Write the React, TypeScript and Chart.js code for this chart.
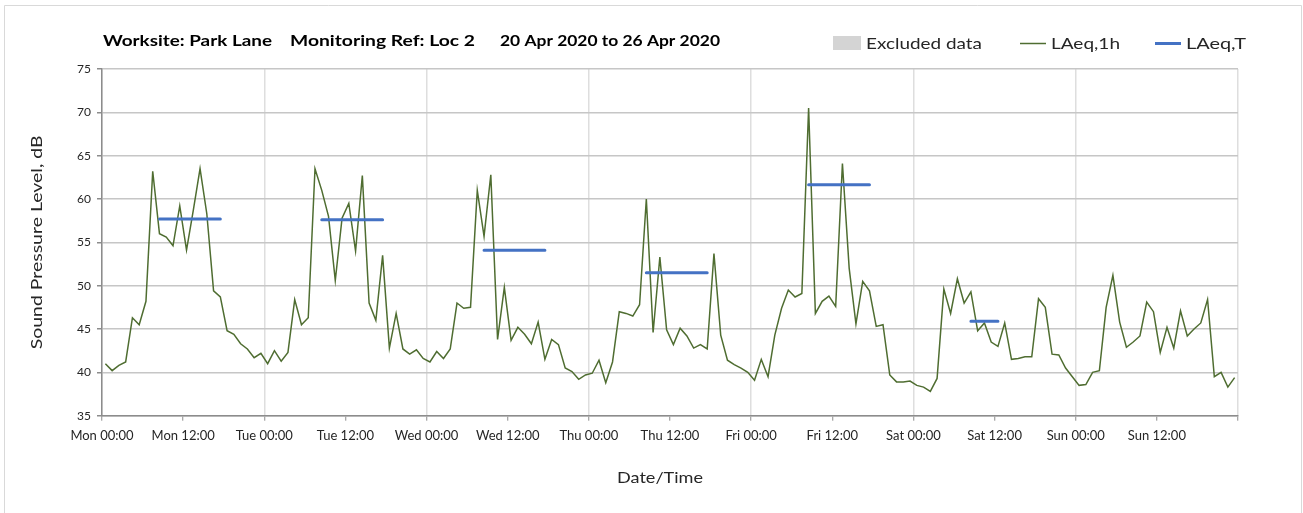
import React, { useEffect, useRef } from "react";
import { Chart, registerables } from "chart.js";

Chart.register(...registerables);

// ---------- data ----------
const DAYS = ["Mon", "Tue", "Wed", "Thu", "Fri", "Sat", "Sun"];
const TICK_TIMES = ["00:00", "12:00"];

// hourly LAeq,1h (dB), Mon 00:00 .. Sun 23:00
const LAEQ_MON = [41.0, 40.2, 40.8, 41.2, 46.3, 45.5, 48.2, 63.2, 56.0, 55.6, 54.6, 59.2, 54.1, 58.7, 63.5, 58.3, 49.4, 48.7, 44.8, 44.4, 43.3, 42.7, 41.7, 42.2];
const LAEQ_TUE = [41.0, 42.5, 41.3, 42.3, 48.4, 45.5, 46.3, 63.5, 61.0, 58.0, 50.6, 57.8, 59.5, 54.0, 62.7, 48.0, 46.0, 53.5, 42.8, 46.8, 42.7, 42.1, 42.6, 41.6];
const LAEQ_WED = [41.2, 42.4, 41.6, 42.7, 48.0, 47.4, 47.5, 61.0, 55.7, 62.8, 43.8, 49.8, 43.7, 45.2, 44.4, 43.3, 45.8, 41.5, 43.8, 43.2, 40.5, 40.1, 39.2, 39.7];
const LAEQ_THU = [39.9, 41.4, 38.8, 41.2, 47.0, 46.8, 46.5, 47.8, 60.0, 44.6, 53.3, 44.9, 43.2, 45.1, 44.2, 42.8, 43.2, 42.7, 53.7, 44.3, 41.4, 40.9, 40.5, 40.0];
const LAEQ_FRI = [39.1, 41.5, 39.5, 44.3, 47.4, 49.5, 48.7, 49.1, 70.5, 46.8, 48.2, 48.8, 47.6, 64.1, 52.0, 45.6, 50.5, 49.4, 45.3, 45.5, 39.7, 38.9, 38.9, 39.0];
const LAEQ_SAT = [38.5, 38.3, 37.8, 39.3, 49.6, 46.8, 50.8, 48.0, 49.3, 44.8, 45.7, 43.5, 43.0, 45.7, 41.5, 41.6, 41.8, 41.8, 48.5, 47.5, 42.1, 42.0, 40.5, 39.5];
const LAEQ_SUN = [38.5, 38.6, 40.0, 40.2, 47.5, 51.2, 45.8, 42.9, 43.5, 44.2, 48.1, 47.0, 42.3, 45.2, 42.8, 47.1, 44.2, 45.0, 45.7, 48.4, 39.5, 40.0, 38.3, 39.4];

// LAeq,T over the working-hours period of each day
const PERIOD_DAY = [0, 1, 2, 3, 4, 5];
const PERIOD_START_HOUR = [8, 8, 8, 8, 8, 8];
const PERIOD_END_HOUR = [17, 17, 17, 17, 17, 12];
const PERIOD_LAEQ_T = [57.7, 57.6, 54.1, 51.5, 61.65, 45.9];

const Y_MIN = 35;
const Y_MAX = 75;
const Y_STEP = 5;

const TITLE_PARTS = ["Worksite: Park Lane", "Monitoring Ref: Loc 2", "20 Apr 2020 to 26 Apr 2020"];
const LEGEND_LABELS = ["Excluded data", "LAeq,1h", "LAeq,T"];
const X_TITLE = "Date/Time";
const Y_TITLE = "Sound Pressure Level, dB";

// ---------- styles ----------
const GREEN = "#4f6d31";
const BLUE = "#4472c4";
const TEXT = "#262626";
const FONT = "Lato, 'Open Sans', sans-serif";

const W = 1303;
const H = 513;

function drawFit(ctx: CanvasRenderingContext2D, text: string, x: number, y: number, width: number, align: "left" | "center" = "left") {
  const w = ctx.measureText(text).width;
  const sx = width / w;
  ctx.save();
  ctx.translate(x, y);
  ctx.scale(sx, 1);
  ctx.textAlign = align;
  ctx.fillText(text, 0, 0);
  ctx.restore();
}

const decorPlugin = {
  id: "decor",
  beforeDraw(chart: any) {
    const ctx = chart.ctx as CanvasRenderingContext2D;
    ctx.save();
    ctx.fillStyle = "#ffffff";
    ctx.fillRect(0, 0, W, H);
    ctx.strokeStyle = "#d9d9d9";
    ctx.lineWidth = 1;
    ctx.beginPath();
    ctx.moveTo(4.5, H);
    ctx.lineTo(4.5, 5.5);
    ctx.lineTo(1301.5, 5.5);
    ctx.lineTo(1301.5, H);
    ctx.stroke();
    ctx.restore();
  },
  afterDraw(chart: any) {
    const ctx = chart.ctx as CanvasRenderingContext2D;
    const area = chart.chartArea;
    ctx.save();
    ctx.textBaseline = "alphabetic";
    // title
    ctx.fillStyle = "#000000";
    ctx.font = `bold 15px ${FONT}`;
    drawFit(ctx, TITLE_PARTS[0], 103, 46, 169);
    drawFit(ctx, TITLE_PARTS[1], 290, 46, 185);
    drawFit(ctx, TITLE_PARTS[2], 500, 46, 220);

    // legend
    ctx.font = `16px ${FONT}`;
    ctx.fillStyle = "#d4d4d4";
    ctx.fillRect(833, 36, 28, 14);
    ctx.fillStyle = TEXT;
    drawFit(ctx, LEGEND_LABELS[0], 866, 49, 116);
    ctx.strokeStyle = GREEN;
    ctx.lineWidth = 1.5;
    ctx.beginPath();
    ctx.moveTo(1020, 43.5);
    ctx.lineTo(1046, 43.5);
    ctx.stroke();
    drawFit(ctx, LEGEND_LABELS[1], 1051, 49, 69);
    ctx.strokeStyle = BLUE;
    ctx.lineWidth = 3;
    ctx.beginPath();
    ctx.moveTo(1155, 43.5);
    ctx.lineTo(1181, 43.5);
    ctx.stroke();
    drawFit(ctx, LEGEND_LABELS[2], 1186, 49, 60);

    // axis titles
    ctx.font = `16px ${FONT}`;
    ctx.fillStyle = TEXT;
    ctx.textBaseline = "middle";
    drawFit(ctx, X_TITLE, 660, 478, 86, "center");
    ctx.save();
    ctx.translate(37, (area.top + area.bottom) / 2);
    ctx.rotate(-Math.PI / 2);
    drawFit(ctx, Y_TITLE, 0, 0, 214, "center");
    ctx.restore();
    ctx.restore();
  },
};

export default function App() {
  const ref = useRef<HTMLCanvasElement | null>(null);

  useEffect(() => {
    if (!ref.current) return;
    const hourly = [...LAEQ_MON, ...LAEQ_TUE, ...LAEQ_WED, ...LAEQ_THU, ...LAEQ_FRI, ...LAEQ_SAT, ...LAEQ_SUN];
    const lineData = hourly.map((v, i) => ({ x: i + 0.5, y: v }));

    const periodData: { x: number; y: number | null }[] = [];
    PERIOD_DAY.forEach((d, p) => {
      for (let h = PERIOD_START_HOUR[p]; h <= PERIOD_END_HOUR[p]; h++) {
        periodData.push({ x: d * 24 + h + 0.5, y: PERIOD_LAEQ_T[p] });
      }
      periodData.push({ x: d * 24 + PERIOD_END_HOUR[p] + 1, y: null });
    });

    const chart = new Chart(ref.current, {
      type: "line",
      data: {
        datasets: [
          {
            label: LEGEND_LABELS[2],
            data: periodData as any,
            borderColor: BLUE,
            borderWidth: 3,
            borderCapStyle: "round",
            pointRadius: 0,
            spanGaps: false,
            tension: 0,
          },
          {
            label: LEGEND_LABELS[1],
            data: lineData,
            borderColor: GREEN,
            borderWidth: 1.5,
            pointRadius: 0,
            tension: 0,
          },
        ],
      },
      options: {
        responsive: false,
        animation: false,
        devicePixelRatio: 1,
        layout: { padding: { top: 69, right: 65, left: 0, bottom: 0 } },
        plugins: {
          legend: { display: false },
          title: { display: false },
          tooltip: { enabled: false },
        },
        scales: {
          x: {
            type: "linear",
            min: 0,
            max: 168,
            afterFit: (s: any) => {
              s.height = H - 415.7;
            },
            afterBuildTicks: (s: any) => {
              const t = [];
              for (let v = 0; v <= 168; v += 12) t.push({ value: v });
              s.ticks = t;
            },
            ticks: {
              autoSkip: false,
              maxRotation: 0,
              minRotation: 0,
              padding: 7,
              color: TEXT,
              font: { family: FONT, size: 13 },
              callback: (v: any) => {
                const n = Number(v);
                if (n >= 168) return "";
                return `${DAYS[Math.floor(n / 24)]} ${TICK_TIMES[(n % 24) / 12]}`;
              },
            },
            grid: {
              color: (c: any) => (c.tick && c.tick.value % 24 === 0 ? "#dedede" : "rgba(0,0,0,0)"),
              lineWidth: 1.5,
              tickColor: "#8c8c8c",
              tickLength: 5,
              tickWidth: 1,
            },
            border: { color: "#8c8c8c", width: 1.5 },
          },
          y: {
            min: Y_MIN,
            max: Y_MAX,
            afterFit: (s: any) => {
              s.width = 102;
            },
            ticks: {
              stepSize: Y_STEP,
              padding: 6,
              color: TEXT,
              font: { family: FONT, size: 12 },
            },
            grid: {
              color: "#c6c6c6",
              lineWidth: 1.5,
              tickColor: "#8c8c8c",
              tickLength: 5,
            },
            border: { color: "#8c8c8c", width: 1.5 },
          },
        },
      },
      plugins: [decorPlugin],
    });
    return () => chart.destroy();
  }, []);

  return (
    <div style={{ position: "fixed", left: 0, top: 0, width: W, height: H, background: "#fff" }}>
      <canvas ref={ref} width={W} height={H} style={{ display: "block" }} />
    </div>
  );
}
